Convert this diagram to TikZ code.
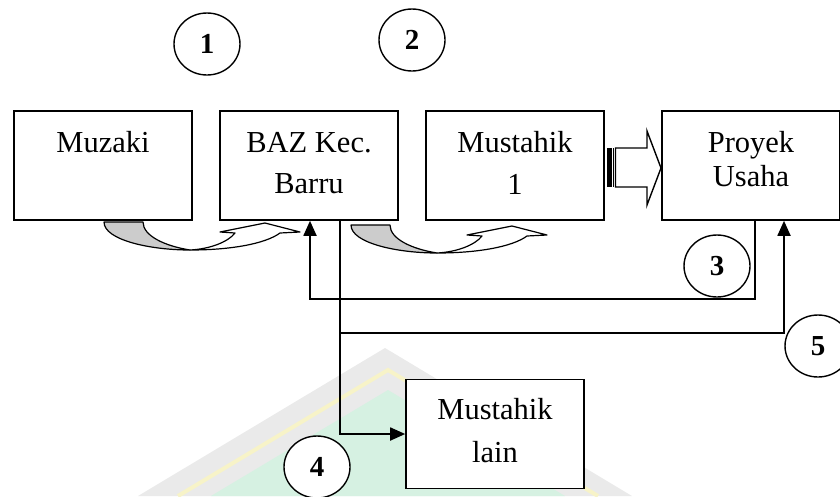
\documentclass[tikz,border=0pt]{standalone}
\usepackage{fontspec}
\setmainfont{Liberation Serif}
\usetikzlibrary{shapes.geometric,arrows.meta}
\definecolor{wmgray}{RGB}{234,234,234}
\definecolor{wmyellow}{RGB}{247,243,200}
\definecolor{wmgreen}{RGB}{214,241,226}
\definecolor{shade}{RGB}{204,204,204}
\begin{document}
\begin{tikzpicture}[x=1pt,y=-1pt,
  box/.style={draw,line width=1.6pt,fill=white,minimum width=178pt,minimum height=109pt,inner sep=0pt},
  txt/.style={anchor=base,inner sep=0pt,font=\fontsize{30.5}{36}\selectfont},
  num/.style={ellipse,draw,line width=1.4pt,fill=white,minimum width=66pt,minimum height=62pt,inner sep=0pt,font=\fontsize{29}{34}\selectfont\bfseries},
  conn/.style={line width=1.8pt},
  arr/.style={conn,-{Triangle[length=15pt,width=13pt]}},
  curvarrow/.pic={
    \filldraw[fill=shade,line width=1.2pt,line join=round]
      (0,0) .. controls (0,18) and (46,28) .. (86,28)
      .. controls (61,24) and (39,14) .. (39,0) -- cycle;
    \filldraw[fill=white,line width=1.2pt,line join=round]
      (86,28) .. controls (126,28) and (161,22) .. (176,11)
      -- (196,10) -- (161,1) -- (116,10) -- (131,11)
      .. controls (124,20) and (106,27) .. (86,28) -- cycle;
  },
]
\useasboundingbox (0,0) rectangle (840,496);
% faint watermark
\fill[wmgray] (138,496) -- (385,348) -- (632,496) -- cycle;
\draw[wmyellow,line width=4pt] (178,496) -- (388,370) -- (598,496);
\fill[wmgreen] (211,496) -- (388,390) -- (565,496) -- cycle;

% boxes
\node[box] (muz) at (103,165.5) {};
\node[box] (baz) at (309,165.5) {};
\node[box] (mus) at (515,165.5) {};
\node[box] (proj) at (751,165.5) {};
\node[box] (lain) at (495,434) {};

\node[txt] (muzt) at (103,152) {Muzaki};
\node[txt] (bazt1) at (309,152) {BAZ Kec.};
\node[txt] (bazt2) at (309,193) {Barru};
\node[txt] (must1) at (515,152) {Mustahik};
\node[txt] (must2) at (515,194) {1};
\node[txt] (projt1) at (751,152) {Proyek};
\node[txt] (projt2) at (751,186) {Usaha};
\node[txt] (laint1) at (495,419) {Mustahik};
\node[txt] (laint2) at (495,462) {lain};

% curved arrows
\pic at (104,222) {curvarrow};
\pic at (351,225) {curvarrow};

% striped block arrow
\fill (607,148) rectangle (611.5,187);
\fill (612.5,148) rectangle (614,187);
\draw[line width=1.4pt,line join=miter]
  (615.5,148) -- (647,148) -- (647,131) -- (661,168) -- (647,205) -- (647,187) -- (615.5,187) -- cycle;

% connectors
\coordinate (k3) at (755,299);
\coordinate (k3b) at (310,299);
\draw[arr] (k3 |- proj.south) -- (k3) -- (k3b) -- (k3b |- baz.south);
\coordinate (k4) at (340,333);
\coordinate (k5) at (784,333);
\draw[arr] (k4 |- baz.south) |- (lain.west);
\draw[arr] (k4) -- (k5) -- (k5 |- proj.south);

% numbered ellipses
\node[num] (n1) at (207,44) {\raisebox{-4pt}{1}};
\node[num] (n2) at (412,40) {\raisebox{-3pt}{2}};
\node[num] (n3) at (717,266) {\raisebox{-4pt}{3}};
\node[num] (n4) at (317,467) {\raisebox{-4pt}{4}};
\node[num] (n5) at (818,346) {\raisebox{-5pt}{5}};
\end{tikzpicture}
\end{document}
